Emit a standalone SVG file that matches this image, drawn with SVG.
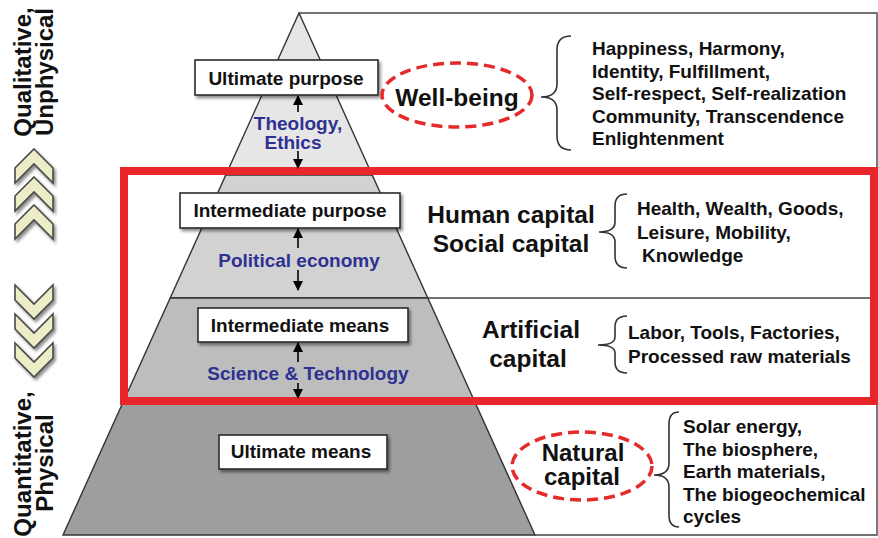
<svg xmlns="http://www.w3.org/2000/svg" width="878" height="538" viewBox="0 0 878 538">
  <defs>
    <filter id="shadow" x="-20%" y="-20%" width="140%" height="150%">
      <feDropShadow dx="2" dy="2.5" stdDeviation="1.5" flood-color="#000" flood-opacity="0.45"/>
    </filter>
    <marker id="head" viewBox="0 0 10 10" refX="9" refY="5" markerWidth="10" markerHeight="10" markerUnits="userSpaceOnUse" orient="auto">
      <path d="M0,0 L10,5 L0,10 Z" fill="#000"/>
    </marker>
    <polygon id="chev-up" points="34,0 53,19 53,34 34,15 15,34 15,19"/>
    <polygon id="chev-down" points="15,0 34,19 53,0 53,15 34,34 15,15"/>
  </defs>
  <style>
    .t { font-family: "Liberation Sans", Arial, sans-serif; font-weight: bold; fill: #111; }
    .box rect { fill: #fff; stroke: #2a2a2a; stroke-width: 1.6; filter: url(#shadow); }
    .box text { font-size: 19px; text-anchor: middle; }
    .blue { fill: #2e3192; font-size: 19px; text-anchor: middle; }
    .big { font-size: 24.5px; text-anchor: middle; }
    .list { font-size: 19px; }
    .side { font-size: 24px; text-anchor: middle; }
    .brace { fill: none; stroke: #333; stroke-width: 1.6; }
    .ring { fill: none; stroke: #e52a2a; stroke-width: 3.5; stroke-dasharray: 11 6; }
    .chev use { fill: #ececc6; stroke: #4a4a4a; stroke-width: 1.6; filter: url(#shadow); }
    .conn line { stroke: #000; stroke-width: 1.6; marker-end: url(#head); }
  </style>

  <rect width="878" height="538" fill="#fff"/>

  <!-- pyramid layers -->
  <g id="pyramid" stroke="#333" stroke-width="1.4">
    <polygon points="299,13 372.2,175 225.8,175" fill="#e6e6e6"/>
    <polygon points="225.8,175 372.2,175 427.8,298 170.2,298" fill="#d2d2d2"/>
    <polygon points="170.2,298 427.8,298 475.3,403 122.7,403" fill="#bdbdbd"/>
    <polygon points="122.7,403 475.3,403 535,535 63,535" fill="#9c9e9f"/>
  </g>

  <!-- frame lines to the right of the pyramid -->
  <g id="frame" fill="none" stroke="#444" stroke-width="1.4">
    <path d="M299,13 H877 V535 H535"/>
    <line x1="427.8" y1="298" x2="877" y2="298"/>
  </g>

  <!-- highlight around the intermediate levels -->
  <rect id="highlight" x="124" y="171" width="750" height="230" fill="none" stroke="#e8262b" stroke-width="8"/>

  <!-- level boxes -->
  <g id="ultimate-purpose" class="box t">
    <rect x="195" y="60" width="183" height="35"/>
    <text x="286" y="85">Ultimate purpose</text>
  </g>
  <g id="intermediate-purpose" class="box t">
    <rect x="180" y="193" width="220" height="35"/>
    <text x="290" y="217">Intermediate purpose</text>
  </g>
  <g id="intermediate-means" class="box t">
    <rect x="198" y="308" width="210" height="34"/>
    <text x="300" y="332">Intermediate means</text>
  </g>
  <g id="ultimate-means" class="box t">
    <rect x="219" y="435" width="168" height="34"/>
    <text x="301" y="458">Ultimate means</text>
  </g>

  <!-- disciplines linking the levels -->
  <g id="theology" class="t">
    <text class="blue" x="298" y="130">Theology,</text>
    <text class="blue" x="293" y="149">Ethics</text>
  </g>
  <g id="political-economy" class="t">
    <text class="blue" x="299" y="267">Political economy</text>
  </g>
  <g id="science-technology" class="t">
    <text class="blue" x="308" y="380">Science &amp; Technology</text>
  </g>

  <g id="connectors" class="conn">
    <line x1="298" y1="112" x2="298" y2="96"/>
    <line x1="298" y1="151" x2="298" y2="168"/>
    <line x1="298" y1="248" x2="298" y2="229"/>
    <line x1="298" y1="270" x2="298" y2="290"/>
    <line x1="298" y1="362" x2="298" y2="343"/>
    <line x1="298" y1="383" x2="298" y2="398"/>
  </g>

  <!-- capitals and their contents -->
  <g id="well-being" class="t">
    <ellipse class="ring" cx="457" cy="95" rx="75" ry="32"/>
    <text class="big" x="457" y="106">Well-being</text>
  </g>
  <g id="well-being-items" class="t">
    <path class="brace" d="M571,36 Q557,36 557,50 V84 Q557,97 541,97 Q557,97 557,110 V136 Q557,150 571,150"/>
    <text class="list" x="592" y="55">Happiness, Harmony,</text>
    <text class="list" x="592" y="77.5">Identity, Fulfillment,</text>
    <text class="list" x="592" y="100">Self-respect, Self-realization</text>
    <text class="list" x="592" y="122.5">Community, Transcendence</text>
    <text class="list" x="592" y="145">Enlightenment</text>
  </g>

  <g id="human-social-capital" class="t">
    <text class="big" x="511" y="223">Human capital</text>
    <text class="big" x="511" y="252">Social capital</text>
  </g>
  <g id="human-social-items" class="t">
    <path class="brace" d="M627,194 Q615,194 615,206 V222 Q615,232 599,232 Q615,232 615,242 V256 Q615,268 627,268"/>
    <text class="list" x="637" y="215">Health, Wealth, Goods,</text>
    <text class="list" x="637" y="238.5">Leisure, Mobility,</text>
    <text class="list" x="642" y="262">Knowledge</text>
  </g>

  <g id="artificial-capital" class="t">
    <text class="big" x="531" y="338">Artificial</text>
    <text class="big" x="528" y="367">capital</text>
  </g>
  <g id="artificial-items" class="t">
    <path class="brace" d="M627,316 Q615,316 615,327 V337 Q615,345 598,345 Q615,345 615,353 V362 Q615,373 627,373"/>
    <text class="list" x="628" y="339">Labor, Tools, Factories,</text>
    <text class="list" x="628" y="363">Processed raw materials</text>
  </g>

  <g id="natural-capital" class="t">
    <ellipse class="ring" cx="582" cy="466" rx="70" ry="34"/>
    <text class="big" x="583" y="461" style="font-size:24px">Natural</text>
    <text class="big" x="582" y="485" style="font-size:24px">capital</text>
  </g>
  <g id="natural-items" class="t">
    <path class="brace" d="M679,412 Q669,412 669,424 V463 Q669,475 654,475 Q669,475 669,487 V515 Q669,527 679,527"/>
    <text class="list" x="683" y="433">Solar energy,</text>
    <text class="list" x="683" y="455.5">The biosphere,</text>
    <text class="list" x="683" y="478">Earth materials,</text>
    <text class="list" x="683" y="500.5">The biogeochemical</text>
    <text class="list" x="683" y="523">cycles</text>
  </g>

  <!-- side axis labels -->
  <g id="qualitative" class="t">
    <text class="side" transform="translate(31,72) rotate(-90)">Qualitative,</text>
    <text class="side" transform="translate(53,72) rotate(-90)">Unphysical</text>
  </g>
  <g id="quantitative" class="t">
    <text class="side" transform="translate(31,464) rotate(-90)">Quantitative,</text>
    <text class="side" transform="translate(53,463) rotate(-90)">Physical</text>
  </g>

  <g id="chevrons-up" class="chev">
    <use href="#chev-up" y="149"/>
    <use href="#chev-up" y="177"/>
    <use href="#chev-up" y="205"/>
  </g>
  <g id="chevrons-down" class="chev">
    <use href="#chev-down" y="285"/>
    <use href="#chev-down" y="314"/>
    <use href="#chev-down" y="343"/>
  </g>
</svg>
